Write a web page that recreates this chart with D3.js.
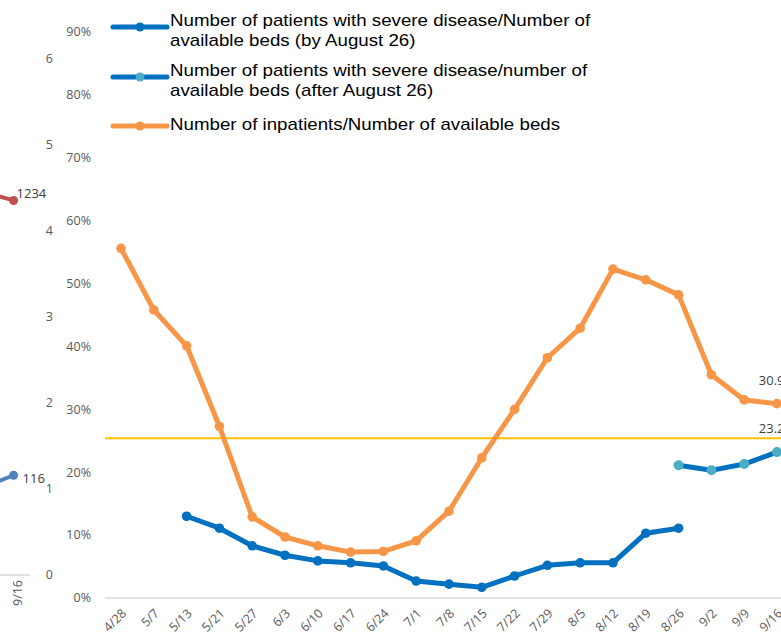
<!DOCTYPE html>
<html>
<head>
<meta charset="utf-8">
<script src="https://cdn.jsdelivr.net/npm/d3@7"></script>
<style>
  body { margin: 0; background: #fff; }
  svg { display: block; }
</style>
</head>
<body>
<div id="chart"></div>
<script>
// weekly categories of the main chart
const dates = ["4/28", "5/7", "5/13", "5/21", "5/27", "6/3", "6/10", "6/17", "6/24", "7/1", "7/8",
               "7/15", "7/22", "7/29", "8/5", "8/12", "8/19", "8/26", "9/2", "9/9", "9/16"];

// Number of inpatients / available beds (%)
const inpatients = [55.6, 45.8, 40.1, 27.3, 12.9, 9.7, 8.3, 7.3, 7.4, 9.1, 13.8,
                    22.3, 30.0, 38.2, 42.9, 52.3, 50.6, 48.2, 35.5, 31.5, 30.9];

// severe disease / available beds, by August 26 (%)
const severeBefore = [null, null, 13.0, 11.1, 8.3, 6.8, 5.9, 5.6, 5.1, 2.7, 2.2,
                      1.7, 3.5, 5.2, 5.6, 5.6, 10.3, 11.1, null, null, null];

// severe disease / available beds, after August 26 (%)
const severeAfter = [null, null, null, null, null, null, null, null, null, null, null,
                     null, null, null, null, null, null, 21.1, 20.3, 21.3, 23.2];

const threshold = 25.4;
const yTicks = [0, 10, 20, 30, 40, 50, 60, 70, 80, 90];

// fragment of the neighbouring chart on the left
const fragDates = ["9/9", "9/16"];
const fragRed = [1265, 1234];
const fragBlue = [101, 116];
const fragTicks = [0, 1, 2, 3, 4, 5, 6];

const legendItems = [
  { lines: ["Number of patients with severe disease/Number of", "available beds (by August 26)"], color: "#0070C0", marker: "#0070C0" },
  { lines: ["Number of patients with severe disease/number of", "available beds (after August 26)"], color: "#0070C0", marker: "#4BACC6" },
  { lines: ["Number of inpatients/Number of available beds"], color: "#F79646", marker: "#F79646" }
];

const width = 781, height = 634;
const tickFont = "'Open Sans', sans-serif";

const svg = d3.select("#chart")
              .append("svg")
              .attr("width", width)
              .attr("height", height);

// ---------- left fragment ----------
const fx = d3.scaleBand().domain(fragDates).range([-35.7, 30]);
const fyAxis = d3.scaleLinear().domain([0, 6]).range([575, 59]);
const fyRed = d3.scaleLinear().domain([0, 1700]).range([575, 59]);
const fyBlue = d3.scaleLinear().domain([0, 600]).range([575, 59]);
const fcx = d => fx(d) + fx.bandwidth() / 2;

svg.append("line")
   .attr("x1", 0).attr("x2", 30)
   .attr("y1", fyAxis(0)).attr("y2", fyAxis(0))
   .attr("stroke", "#D9D9D9").attr("stroke-width", 1.5);

svg.selectAll(".ftick")
   .data(fragTicks)
   .enter()
   .append("text")
   .attr("class", "ftick")
   .attr("x", 53)
   .attr("y", d => fyAxis(d))
   .attr("dy", "0.35em")
   .attr("text-anchor", "end")
   .attr("font-family", tickFont)
   .attr("font-size", 12.5)
   .attr("fill", "#595959")
   .text(d => d);

svg.append("text")
   .attr("transform", `translate(${fcx("9/16") + 8},${593}) rotate(-90)`)
   .attr("text-anchor", "middle")
   .attr("font-family", tickFont)
   .attr("font-size", 12.5)
   .attr("fill", "#595959")
   .text("9/16");

[[fragRed, fyRed, "#C0504D"], [fragBlue, fyBlue, "#4F81BD"]].forEach(([vals, sc, col]) => {
  const pts = vals.map((v, i) => [fcx(fragDates[i]), sc(v)]);
  svg.append("path")
     .attr("d", d3.line()(pts))
     .attr("fill", "none")
     .attr("stroke", col)
     .attr("stroke-width", 4);
  svg.append("circle")
     .attr("cx", pts[1][0]).attr("cy", pts[1][1])
     .attr("r", 4.5).attr("fill", col);
  svg.append("text")
     .attr("x", pts[1][0] + (col === "#C0504D" ? 3 : 9))
     .attr("y", pts[1][1] - (col === "#C0504D" ? 7 : -3))
     .attr("dy", "0.35em")
     .attr("font-family", tickFont)
     .attr("font-size", 13)
     .attr("fill", "#404040")
     .text(vals[1]);
});

// ---------- main chart ----------
const x = d3.scaleBand().domain(dates).range([104.6, 104.6 + 21 * 32.8]);
const y = d3.scaleLinear().domain([0, 90]).range([598, 32]);
const cx = d => x(d) + x.bandwidth() / 2;

svg.append("line")
   .attr("x1", 105).attr("x2", width)
   .attr("y1", y(0)).attr("y2", y(0))
   .attr("stroke", "#D9D9D9").attr("stroke-width", 1.5);

svg.selectAll(".ytick")
   .data(yTicks)
   .enter()
   .append("text")
   .attr("class", "ytick")
   .attr("x", 91)
   .attr("y", d => y(d))
   .attr("dy", "0.35em")
   .attr("text-anchor", "end")
   .attr("font-family", tickFont)
   .attr("font-size", 12.5)
   .attr("fill", "#595959")
   .text(d => d + "%");

svg.selectAll(".xtick")
   .data(dates)
   .enter()
   .append("text")
   .attr("class", "xtick")
   .attr("transform", d => `translate(${cx(d) + 3},${611}) rotate(-45)`)
   .attr("text-anchor", "end")
   .attr("dy", "0.35em")
   .attr("font-family", tickFont)
   .attr("font-size", 12.5)
   .attr("fill", "#595959")
   .text(d => d);

// threshold line
svg.append("line")
   .attr("x1", 105).attr("x2", width)
   .attr("y1", y(threshold)).attr("y2", y(threshold))
   .attr("stroke", "#FFC000").attr("stroke-width", 2);

function drawSeries(values, lineColor, markerColor, r) {
  const pts = dates.map((d, i) => ({ d, v: values[i] })).filter(p => p.v !== null);
  svg.append("path")
     .datum(pts)
     .attr("d", d3.line().x(p => cx(p.d)).y(p => y(p.v)))
     .attr("fill", "none")
     .attr("stroke", lineColor)
     .attr("stroke-width", 5)
     .attr("stroke-linejoin", "round");
  svg.selectAll(null)
     .data(pts)
     .enter()
     .append("circle")
     .attr("cx", p => cx(p.d))
     .attr("cy", p => y(p.v))
     .attr("r", r)
     .attr("fill", markerColor);
  return pts;
}

drawSeries(severeBefore, "#0070C0", "#0070C0", 4.8);
drawSeries(severeAfter, "#0070C0", "#4BACC6", 5);
drawSeries(inpatients, "#F79646", "#F79646", 4.8);

// data labels on last points
[[inpatients, -23], [severeAfter, -24]].forEach(([vals, off]) => {
  const last = dates.length - 1;
  svg.append("text")
     .attr("x", cx(dates[last]))
     .attr("y", y(vals[last]) + off)
     .attr("dy", "0.35em")
     .attr("text-anchor", "middle")
     .attr("font-family", tickFont)
     .attr("font-size", 13)
     .attr("fill", "#404040")
     .text(vals[last].toFixed(1) + "%");
});

// ---------- legend ----------
const legend = svg.append("g");
const legendRows = [27, 77, 126];
legendItems.forEach((item, i) => {
  const g = legend.append("g").attr("transform", `translate(0,${legendRows[i]})`);
  g.append("line")
   .attr("x1", 113).attr("x2", 167)
   .attr("stroke", item.color).attr("stroke-width", 5)
   .attr("stroke-linecap", "round");
  g.append("circle").attr("cx", 140).attr("r", 4.5).attr("fill", item.marker);
  item.lines.forEach((t, j) => {
    g.append("text")
     .attr("transform", `translate(170,${(item.lines.length === 2 ? -1 : 4) + j * 19.5}) scale(1.17,1)`)
     .attr("font-family", "'Liberation Sans', Arial, sans-serif")
     .attr("font-size", 16)
     .attr("fill", "#000")
     .text(t);
  });
});
</script>
</body>
</html>
